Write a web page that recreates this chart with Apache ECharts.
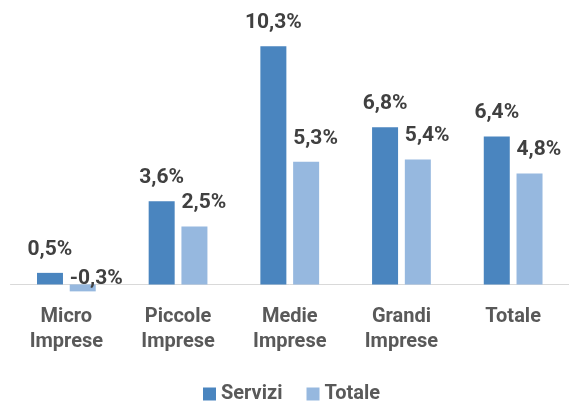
<!DOCTYPE html>
<html>
<head>
<meta charset="utf-8">
<script src="https://cdn.jsdelivr.net/npm/echarts@6/dist/echarts.min.js"></script>
<style>
  html, body { margin: 0; padding: 0; background: #fff; }
  #chart { width: 569px; height: 404px; }
</style>
</head>
<body>
<div id="chart"></div>
<script>
const categories = ['Micro\nImprese', 'Piccole\nImprese', 'Medie\nImprese', 'Grandi\nImprese', 'Totale'];
const servizi = [0.5, 3.6, 10.3, 6.8, 6.4];
const totale = [-0.3, 2.5, 5.3, 5.4, 4.8];

const fontFamily = 'Roboto, "Liberation Sans", sans-serif';
const fmt = (p) => p.value.toFixed(1).replace('.', ',') + '%';

const chart = echarts.init(document.getElementById('chart'));
const option = {
  animation: false,
  grid: { left: 10.5, right: -6, top: 30, bottom: 108 },
  legend: {
    top: 379,
    left: 198,
    itemWidth: 13,
    itemHeight: 13,
    itemGap: 24,
    icon: 'rect',
    textStyle: { fontFamily, fontSize: 20, fontWeight: 'bold', color: '#595959' },
    data: ['Servizi', 'Totale']
  },
  xAxis: {
    type: 'category',
    data: categories,
    axisLine: { lineStyle: { color: '#D9D9D9', width: 1 } },
    axisTick: { show: false },
    axisLabel: {
      fontFamily, fontSize: 20, fontWeight: 'bold', color: '#595959',
      lineHeight: 25, margin: 8
    }
  },
  yAxis: {
    type: 'value', min: -0.5, max: 11, show: false, splitLine: { show: false }
  },
  series: [
    {
      name: 'Servizi', type: 'bar', data: servizi, barWidth: 26, barGap: '26%',
      itemStyle: { color: '#4A85BF' },
      label: {
        show: true, position: 'top', distance: 13, formatter: fmt,
        fontFamily, fontSize: 21, fontWeight: 'bold', color: '#404040'
      }
    },
    {
      name: 'Totale', type: 'bar', barWidth: 26,
      data: totale.map((v) => v < 0 ? { value: v, label: { distance: -5 } } : v),
      itemStyle: { color: '#96B8DF' },
      label: {
        show: true, position: 'top', distance: 13, align: 'left', offset: [-13, 0], formatter: fmt,
        fontFamily, fontSize: 21, fontWeight: 'bold', color: '#404040'
      }
    }
  ]
};
chart.setOption(option);
</script>
</body>
</html>
